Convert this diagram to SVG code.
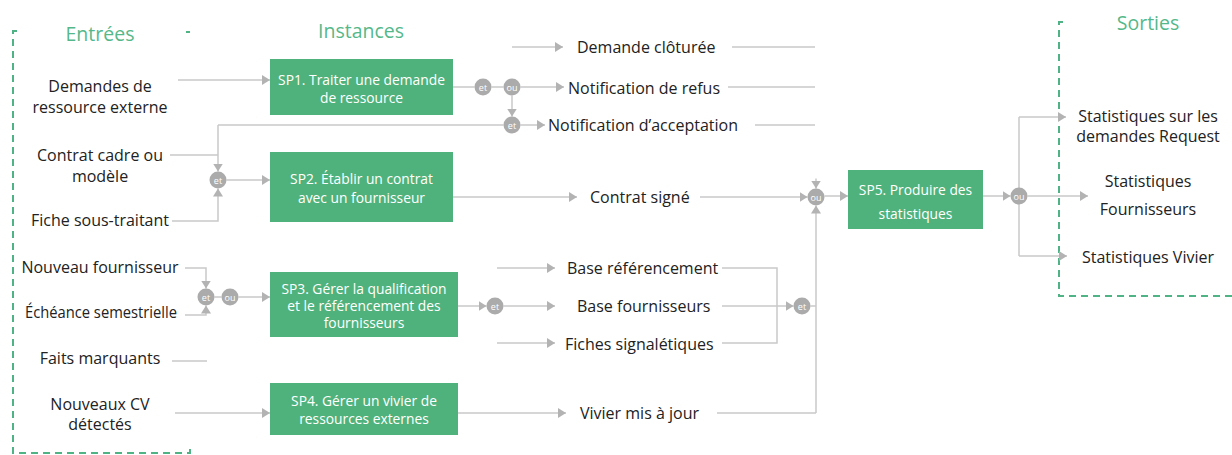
<svg xmlns="http://www.w3.org/2000/svg" width="1232" height="455" viewBox="0 0 1232 455">
<style>
.bg{fill:#ffffff}
.box{fill:#4fb27c}
.bt{font-family:"Open Sans","Noto Sans",sans-serif;font-size:13.8px;fill:#ffffff;text-anchor:middle;dominant-baseline:central}
.lb{font-family:"Open Sans","Noto Sans",sans-serif;font-size:16px;fill:#222222;dominant-baseline:central}
.mid{text-anchor:middle}
.ti{font-family:"Open Sans","Noto Sans",sans-serif;font-size:19.5px;fill:#55b88a;text-anchor:middle;dominant-baseline:central}
.ln{fill:none;stroke:#c9c9c9;stroke-width:1.5}
.ar{fill:none;stroke:#c9c9c9;stroke-width:1.5;marker-end:url(#ah)}
.gc{fill:#ababab}
.gt{font-family:"Open Sans","Noto Sans",sans-serif;font-size:9px;fill:#ffffff;text-anchor:middle;dominant-baseline:central}
.dash{fill:none;stroke:#4fb386;stroke-width:2;stroke-dasharray:7 5}
</style>
<defs>
<marker id="ah" viewBox="0 0 8 10" refX="8" refY="5" markerWidth="8" markerHeight="10" markerUnits="userSpaceOnUse" orient="auto">
<path d="M0,0 L8,5 L0,10 z" fill="#b3b3b3"/>
</marker>
</defs>
<rect class="bg" x="0" y="0" width="1232" height="455"/>

<g id="frames">
<path class="dash" d="M17,31 H13 V453 H190 V448"/>
<path class="dash" d="M186,32 H190"/>
<path class="dash" d="M1063,22 H1059 V296 H1232"/>
</g>

<g id="titles">
<text class="ti" x="100" y="33">Entrées</text>
<text class="ti" x="361" y="30">Instances</text>
<text class="ti" x="1148" y="22">Sorties</text>
</g>

<g id="connectors">
<path class="ar" d="M178,80 H270"/>
<path class="ln" d="M170,155 H218"/>
<path class="ar" d="M218,125 V171.5"/>
<path class="ln" d="M218,125 H503.5"/>
<path class="ar" d="M172,221 H218 V188.5"/>
<path class="ar" d="M226.5,180 H270"/>
<path class="ar" d="M185,268 H206 V288.5"/>
<path class="ar" d="M185,315 H206 V305.5"/>
<path class="ln" d="M214.5,297 H221.5"/>
<path class="ar" d="M238.5,297 H270"/>
<path class="ln" d="M172,361 H207"/>
<path class="ar" d="M175,413 H270"/>

<path class="ln" d="M453,87 H474.5"/>
<path class="ln" d="M491.5,87 H503.5"/>
<path class="ar" d="M520.5,87 H564"/>
<path class="ar" d="M512,95.5 V116.5"/>
<path class="ar" d="M520.5,125 H545"/>
<path class="ar" d="M512,47 H563"/>
<path class="ln" d="M732,47 H815"/>
<path class="ln" d="M728,87 H815"/>
<path class="ln" d="M755,125 H815"/>

<path class="ar" d="M453,197 H577"/>
<path class="ar" d="M700,197 H807.5"/>
<path class="ar" d="M816,178.5 V188.5"/>
<path class="ar" d="M816,413 V205.5"/>
<path class="ar" d="M458,413 H566"/>
<path class="ln" d="M717,413 H816"/>

<path class="ar" d="M458,306 H486.5"/>
<path class="ar" d="M503.5,306 H555"/>
<path class="ar" d="M722,306 H793.5"/>
<path class="ln" d="M810.5,306 H816"/>
<path class="ar" d="M497,268 H555"/>
<path class="ar" d="M497,343 H555"/>
<path class="ln" d="M722,268 H777 V343 H722"/>

<path class="ar" d="M824.5,196 H848"/>
<path class="ar" d="M983,196 H1010.5"/>
<path class="ar" d="M1027.5,196 H1088"/>
<path class="ar" d="M1019,117 H1066"/>
<path class="ar" d="M1019,256 H1067"/>
<path class="ln" d="M1019,117 V256"/>
</g>

<g id="gates">
<g id="g-et1"><circle class="gc" cx="218" cy="180" r="8.5"/><text class="gt" x="218" y="180">et</text></g>
<g id="g-et2"><circle class="gc" cx="206" cy="297" r="8.5"/><text class="gt" x="206" y="297">et</text></g>
<g id="g-ou2"><circle class="gc" cx="230" cy="297" r="8.5"/><text class="gt" x="230" y="297">ou</text></g>
<g id="g-et3"><circle class="gc" cx="483" cy="87" r="8.5"/><text class="gt" x="483" y="87">et</text></g>
<g id="g-ou3"><circle class="gc" cx="512" cy="87" r="8.5"/><text class="gt" x="512" y="87">ou</text></g>
<g id="g-et4"><circle class="gc" cx="512" cy="125" r="8.5"/><text class="gt" x="512" y="125">et</text></g>
<g id="g-et5"><circle class="gc" cx="495" cy="306" r="8.5"/><text class="gt" x="495" y="306">et</text></g>
<g id="g-et6"><circle class="gc" cx="802" cy="306" r="8.5"/><text class="gt" x="802" y="306">et</text></g>
<g id="g-ou7"><circle class="gc" cx="816" cy="197" r="8.5"/><text class="gt" x="816" y="197">ou</text></g>
<g id="g-ou8"><circle class="gc" cx="1019" cy="196" r="8.5"/><text class="gt" x="1019" y="196">ou</text></g>
</g>

<g id="inputs">
<g id="in-demandes"><text class="lb mid" x="100" y="86">Demandes de<tspan x="100" dy="20.5">ressource externe</tspan></text></g>
<g id="in-contrat"><text class="lb mid" x="100" y="155">Contrat cadre ou<tspan x="100" dy="20.5">modèle</tspan></text></g>
<g id="in-fiche"><text class="lb mid" x="100" y="220">Fiche sous-traitant</text></g>
<g id="in-nouveau"><text class="lb mid" x="100" y="267">Nouveau fournisseur</text></g>
<g id="in-echeance"><text class="lb mid" x="101" y="312" textLength="152" lengthAdjust="spacingAndGlyphs">Échéance semestrielle</text></g>
<g id="in-faits"><text class="lb mid" x="100" y="358">Faits marquants</text></g>
<g id="in-cv"><text class="lb mid" x="100" y="403.5">Nouveaux CV<tspan x="100" dy="20.5">détectés</tspan></text></g>
</g>

<g id="SP1"><rect class="box" x="270" y="59" width="183" height="56"/><text class="bt" x="361.5" y="79">SP1. Traiter une demande<tspan x="361.5" dy="18">de ressource</tspan></text></g>
<g id="SP2"><rect class="box" x="270" y="152" width="183" height="70"/><text class="bt" x="361.5" y="178">SP2. Établir un contrat<tspan x="361.5" dy="19">avec un fournisseur</tspan></text></g>
<g id="SP3"><rect class="box" x="270" y="272" width="188" height="65"/><text class="bt" x="364" y="288">SP3. Gérer la qualification<tspan x="364" dy="17">et le référencement des</tspan><tspan x="364" dy="17">fournisseurs</tspan></text></g>
<g id="SP4"><rect class="box" x="270" y="383" width="188" height="52"/><text class="bt" x="364" y="400">SP4. Gérer un vivier de<tspan x="364" dy="18">ressources externes</tspan></text></g>
<g id="SP5"><rect class="box" x="848" y="170" width="135" height="59"/><text class="bt" x="915.5" y="189">SP5. Produire des<tspan x="915.5" dy="24">statistiques</tspan></text></g>

<g id="outputs-mid">
<g id="o-cloture"><text class="lb" x="577" y="47">Demande clôturée</text></g>
<g id="o-refus"><text class="lb" x="568" y="88">Notification de refus</text></g>
<g id="o-accept"><text class="lb" x="548" y="125">Notification d’acceptation</text></g>
<g id="o-contrat"><text class="lb" x="590" y="197">Contrat signé</text></g>
<g id="o-baseref"><text class="lb" x="567" y="268">Base référencement</text></g>
<g id="o-basefour"><text class="lb" x="577" y="306">Base fournisseurs</text></g>
<g id="o-fiches"><text class="lb" x="565" y="344">Fiches signalétiques</text></g>
<g id="o-vivier"><text class="lb" x="580" y="413">Vivier mis à jour</text></g>
</g>

<g id="outputs">
<g id="out-req"><text class="lb mid" x="1148" y="115.5">Statistiques sur les<tspan x="1148" dy="20.5">demandes Request</tspan></text></g>
<g id="out-four"><text class="lb mid" x="1148" y="181">Statistiques<tspan x="1148" dy="28">Fournisseurs</tspan></text></g>
<g id="out-viv"><text class="lb mid" x="1148" y="257">Statistiques Vivier</text></g>
</g>
</svg>
